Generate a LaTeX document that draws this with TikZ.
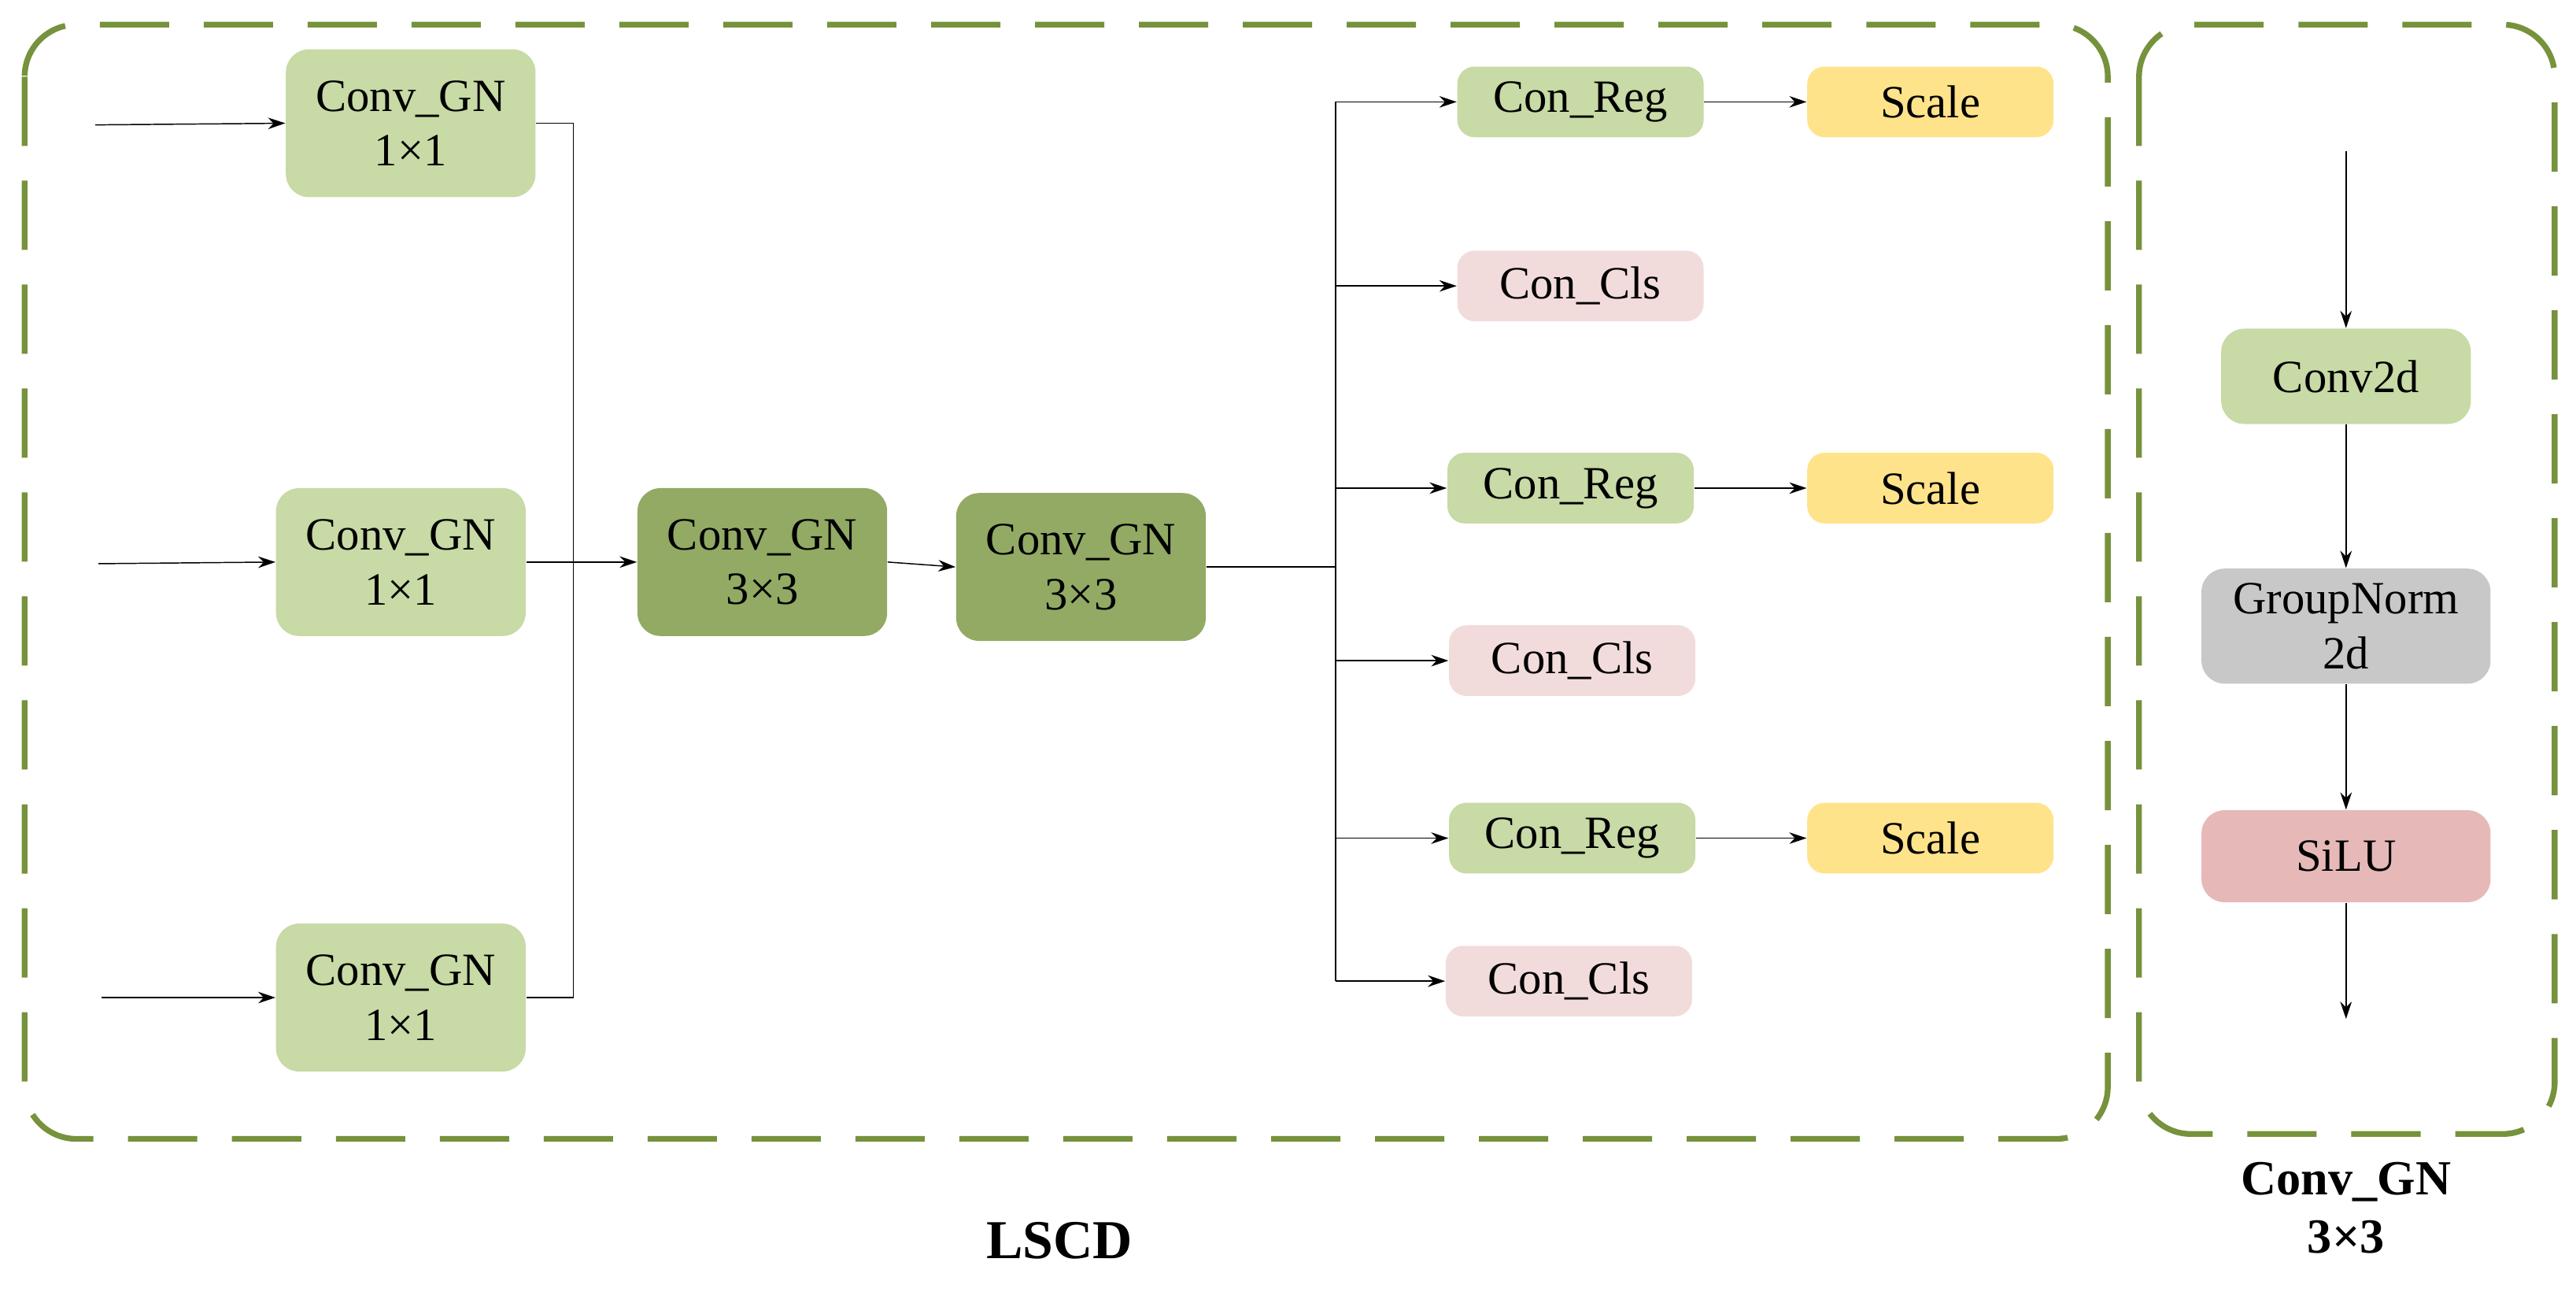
\documentclass[tikz,border=0pt]{standalone}
\usepackage{fontspec}
\setmainfont{Liberation Serif}
\usetikzlibrary{arrows.meta,positioning,calc}
\definecolor{frame}{RGB}{118,146,60}
\definecolor{lgreen}{RGB}{200,218,165}
\definecolor{dgreen}{RGB}{146,170,100}
\definecolor{yel}{RGB}{255,227,138}
\definecolor{pinkc}{RGB}{242,220,219}
\definecolor{grayc}{RGB}{200,200,200}
\definecolor{redc}{RGB}{230,185,184}
\tikzstyle{box} = [rounded corners=8pt, inner sep=0pt, align=center, font=\fontsize{16}{19}\selectfont, minimum width=3.04cm, minimum height=1.8cm]
\tikzstyle{head} = [rounded corners=6pt, inner sep=0pt, font=\fontsize{16}{19}\selectfont, minimum width=3cm, minimum height=0.86cm]
\tikzstyle{frm} = [draw=frame, line width=2pt, dash pattern=on 24pt off 12pt, rounded corners=18pt]
\tikzstyle{arrow} = [thin,-{Stealth[length=6pt,width=4pt]}]
\begin{document}
\begin{tikzpicture}[x=0.02cm,y=-0.02cm]
  \useasboundingbox (0,0) rectangle (1568,786);
  % frames
  \draw[frm] (15,15) rectangle (1283,693);
  \draw[frm] (1302,15) rectangle (1555,690);
  % input convs
  \node[box, fill=lgreen] (gn1) at (250,75) {Conv\_GN\\1×1};
  \node[box, fill=lgreen] (gn2) at (244,342) {Conv\_GN\\1×1};
  \node[box, fill=lgreen] (gn3) at (244,607) {Conv\_GN\\1×1};
  \node[box, fill=dgreen] (sh1) at (464,342) {Conv\_GN\\3×3};
  \node[box, fill=dgreen] (sh2) at (658,345) {Conv\_GN\\3×3};
  % heads
  \node[head, fill=lgreen] (reg1) at (962,62) {Con\_Reg};
  \node[head, fill=yel] (sc1) at (1175,62) {Scale};
  \node[head, fill=pinkc] (cls1) at (962,174) {Con\_Cls};
  \node[head, fill=lgreen] (reg2) at (956,297) {Con\_Reg};
  \node[head, fill=yel] (sc2) at (1175,297) {Scale};
  \node[head, fill=pinkc] (cls2) at (957,402) {Con\_Cls};
  \node[head, fill=lgreen] (reg3) at (957,510) {Con\_Reg};
  \node[head, fill=yel] (sc3) at (1175,510) {Scale};
  \node[head, fill=pinkc] (cls3) at (955,597) {Con\_Cls};
  % inputs
  \coordinate (in1) at (58,76);
  \coordinate (in2) at (60,343);
  \coordinate (in3) at (62,607);
  \draw[arrow] (in1) -- (gn1.west);
  \draw[arrow] (in2) -- (gn2.west);
  \draw[arrow] (in3) -- (gn3.west);
  % merge bus
  \coordinate (busa) at (349,0);
  \draw (gn1.east) -| (busa |- gn3.east) -- (gn3.east);
  \draw[arrow] (gn2.east) -- (sh1.west);
  \draw[arrow] (sh1.east) -- (sh2.west);
  % split bus
  \coordinate (busb) at (813,345);
  \draw (sh2.east) -- (busb);
  \draw (busb |- reg1.west) -- (busb |- cls3.west);
  \foreach \h in {reg1,cls1,reg2,cls2,reg3,cls3}
    \draw[arrow] (busb |- \h.west) -- (\h.west);
  \draw[arrow] (reg1) -- (sc1);
  \draw[arrow] (reg2) -- (sc2);
  \draw[arrow] (reg3) -- (sc3);
  % right module
  \node[box, fill=lgreen, minimum height=1.16cm] (c2d) at (1428,229) {Conv2d};
  \node[box, fill=grayc, minimum width=3.52cm, minimum height=1.4cm] (gnorm) at (1428,381) {GroupNorm\\2d};
  \node[box, fill=redc, minimum width=3.52cm, minimum height=1.12cm] (silu) at (1428,521) {SiLU};
  \coordinate (top) at (1428,92);
  \coordinate (bot) at (1428,620);
  \draw[arrow] (top) -- (c2d);
  \draw[arrow] (c2d) -- (gnorm);
  \draw[arrow] (gnorm) -- (silu);
  \draw[arrow] (silu) -- (bot);
  % captions
  \node[font=\fontsize{19}{22}\bfseries] (lscd) at (645,755) {LSCD};
  \node[font=\fontsize{17}{20}\bfseries, align=center] (cgn) at (1428,735) {Conv\_GN\\3×3};
\end{tikzpicture}
\end{document}
